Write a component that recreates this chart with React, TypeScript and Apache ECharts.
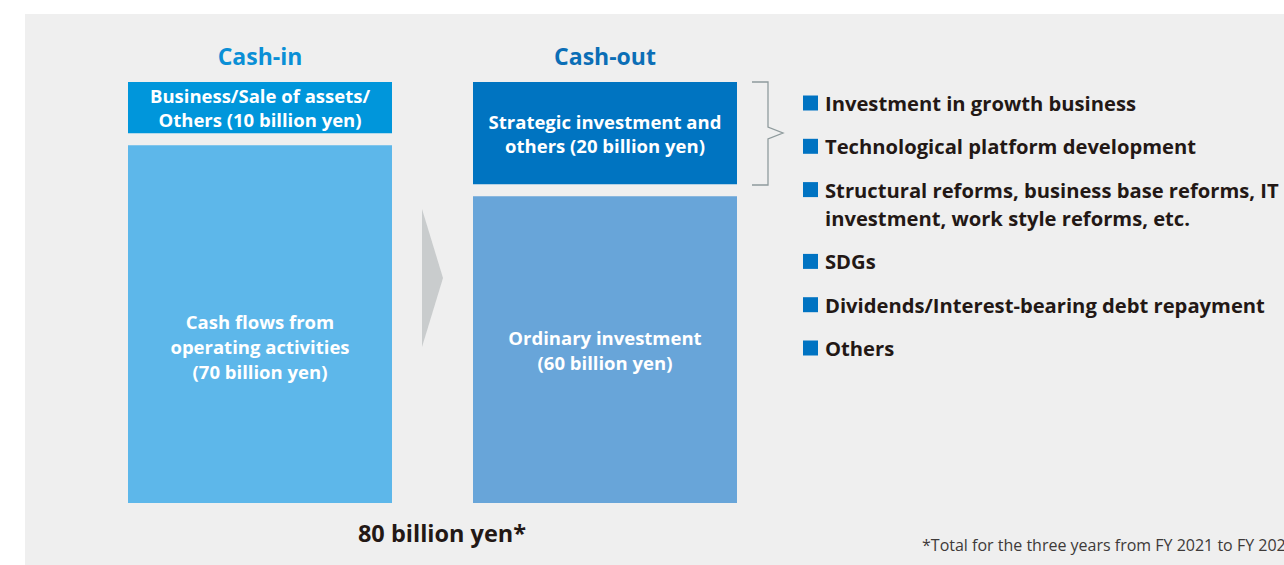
import React, { useEffect, useRef } from "react";
import * as echarts from "echarts";

const categories = ["Cash-in", "Cash-out"];
const baseValues = [70, 60];
const topValues = [10, 20];
const baseLabels = [
  "Cash flows from\noperating activities\n(70 billion yen)",
  "Ordinary investment\n(60 billion yen)",
];
const topLabels = [
  "Business/Sale of assets/\nOthers (10 billion yen)",
  "Strategic investment and\nothers (20 billion yen)",
];
const uses = [
  "Investment in growth business",
  "Technological platform development",
  "Structural reforms, business base reforms, IT\ninvestment, work style reforms, etc.",
  "SDGs",
  "Dividends/Interest-bearing debt repayment",
  "Others",
];
const totalLabel = "80 billion yen*";
const footnote = "*Total for the three years from FY 2021 to FY 2023";

const FONT = '"Open Sans", "Noto Sans", sans-serif';
const baseColors = ["#5DB7EA", "#68A5D9"];
const topColors = ["#0096DB", "#0074C1"];
const titleColors = ["#0A8FD6", "#0B6EB6"];
const GAP = 12;
const BAR_W = 264;

export default function App() {
  const ref = useRef<HTMLDivElement>(null);
  useEffect(() => {
    const chart = echarts.init(ref.current!, null, { renderer: "svg" });

    const makeRender = (isTop: boolean) => (params: any, api: any) => {
      const i = api.value(0);
      const base = api.value(1);
      const val = api.value(2);
      const p0 = api.coord([i, base]);
      const p1 = api.coord([i, base + val]);
      const shift = isTop ? GAP : 0;
      const fill = isTop ? topColors[i] : baseColors[i];
      const text = isTop ? topLabels[i] : baseLabels[i];
      const dy = !isTop && i === 0 ? 22 : 0;
      return {
        type: "rect",
        shape: { x: p0[0] - BAR_W / 2, y: p1[1] - shift, width: BAR_W, height: p0[1] - p1[1] },
        style: { fill },
        textContent: {
          style: {
            text,
            fill: "#ffffff",
            fontSize: 18.5,
            fontWeight: "bold",
            fontFamily: FONT,
            lineHeight: isTop ? 24 : 25,
            align: "center",
          },
        },
        textConfig: { position: "inside", offset: [0, dy] },
      };
    };

    const LEG_X = 803;
    const legendEls: any[] = [];
    let cy = 103;
    uses.forEach((u) => {
      const lines = u.split("\n").length;
      legendEls.push({
        type: "rect",
        shape: { x: LEG_X, y: cy - 7.5, width: 15, height: 15 },
        style: { fill: "#0073C2" },
      });
      legendEls.push({
        type: "text",
        x: LEG_X + 22,
        y: cy - 14,
        style: {
          text: u,
          fill: "#231815",
          fontSize: 20.2,
          fontWeight: "bold",
          fontFamily: FONT,
          lineHeight: 28,
          verticalAlign: "top",
          align: "left",
        },
      });
      cy += 43.3 + 28.5 * (lines - 1);
    });

    chart.setOption({
      animation: false,
      grid: { left: 87.5, right: 506.5, top: 94, bottom: 62 },
      xAxis: {
        type: "category",
        data: categories,
        position: "top",
        axisLine: { show: false },
        axisTick: { show: false },
        axisLabel: {
          margin: 26.5,
          formatter: (v: string, idx: number) => `{c${idx}|${v}}`,
          rich: {
            c0: { color: titleColors[0], fontSize: 23, fontWeight: "bold", fontFamily: FONT },
            c1: { color: titleColors[1], fontSize: 23, fontWeight: "bold", fontFamily: FONT },
          },
        },
      },
      yAxis: { type: "value", min: 0, max: 80, show: false },
      graphic: [
        {
          type: "rect",
          z: -10,
          shape: { x: 25, y: 14, width: 1259, height: 551 },
          style: { fill: "#EFEFEF" },
        },
        {
          type: "polygon",
          shape: { points: [[422, 209], [443, 278], [422, 347]] },
          style: { fill: "#C9CCCD" },
        },
        {
          type: "polyline",
          shape: {
            points: [[752, 82], [768, 82], [768, 127], [783, 133], [768, 139], [768, 185], [752, 185]],
          },
          style: { stroke: "#8F9B9D", lineWidth: 1.3, fill: "none" },
        },
        ...legendEls,
        {
          type: "text",
          x: 442,
          y: 533,
          style: {
            text: totalLabel,
            fill: "#231815",
            fontSize: 23.5,
            fontWeight: "bold",
            fontFamily: FONT,
            align: "center",
            verticalAlign: "middle",
          },
        },
        {
          type: "text",
          x: 922,
          y: 545,
          style: {
            text: footnote,
            fill: "#3E3A39",
            fontSize: 16,
            fontFamily: FONT,
            align: "left",
            verticalAlign: "middle",
          },
        },
      ],
      series: [
        {
          type: "custom",
          name: "base",
          renderItem: makeRender(false),
          encode: { x: 0, y: [1, 2] },
          data: baseValues.map((v, i) => [i, 0, v]),
          z: 2,
        },
        {
          type: "custom",
          name: "top",
          renderItem: makeRender(true),
          encode: { x: 0, y: [1, 2] },
          data: topValues.map((v, i) => [i, baseValues[i], v]),
          z: 2,
        },
      ],
    });
    return () => chart.dispose();
  }, []);
  return (
    <div
      ref={ref}
      style={{ position: "fixed", left: 0, top: 0, width: 1284, height: 565, background: "#ffffff" }}
    />
  );
}
